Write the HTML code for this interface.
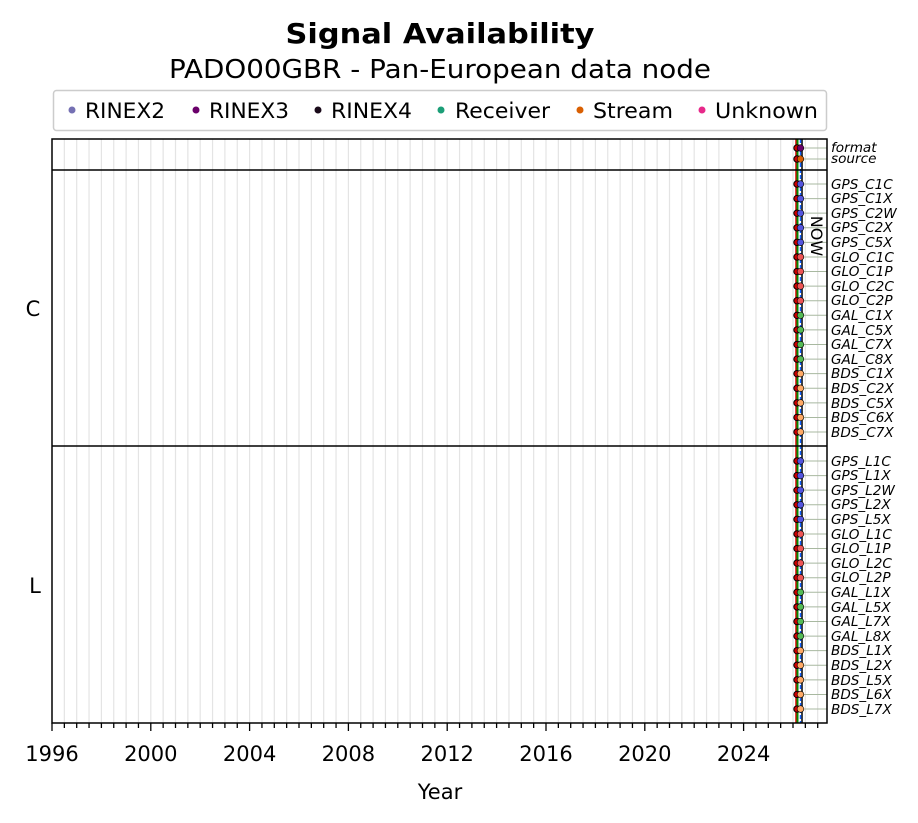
<!DOCTYPE html>
<html><head><meta charset="utf-8"><style>
body{margin:0;background:#fff}
svg{display:block;font-family:"DejaVu Sans","Liberation Sans",sans-serif}
.lab{font-size:13.6px;font-style:italic}
</style></head><body>
<svg id="s" width="918" height="823" viewBox="0 0 918 823" xmlns="http://www.w3.org/2000/svg">
<rect width="918" height="823" fill="#fff"/>
<text x="440" y="43" text-anchor="middle" font-size="28" font-weight="bold" textLength="309" lengthAdjust="spacingAndGlyphs">Signal Availability</text>
<text x="440" y="78" text-anchor="middle" font-size="26" textLength="542" lengthAdjust="spacingAndGlyphs">PADO00GBR - Pan-European data node</text>
<rect x="53.5" y="90.5" width="773" height="40" rx="3" fill="#fff" stroke="#ccc" stroke-width="1.5"/>
<g font-size="21">
<circle cx="72" cy="110" r="3.5" fill="#7570b3"/><text x="85" y="118" textLength="80" lengthAdjust="spacingAndGlyphs">RINEX2</text>
<circle cx="196" cy="110" r="3.5" fill="#6a006a"/><text x="209" y="118" textLength="80" lengthAdjust="spacingAndGlyphs">RINEX3</text>
<circle cx="318" cy="110" r="3.5" fill="#1a0a1a"/><text x="331" y="118" textLength="81" lengthAdjust="spacingAndGlyphs">RINEX4</text>
<circle cx="441" cy="110" r="3.5" fill="#1b9e77"/><text x="455" y="118" textLength="95" lengthAdjust="spacingAndGlyphs">Receiver</text>
<circle cx="580" cy="110" r="3.5" fill="#d95f02"/><text x="593" y="118" textLength="80" lengthAdjust="spacingAndGlyphs">Stream</text>
<circle cx="702" cy="110" r="3.5" fill="#e7298a"/><text x="715" y="118" textLength="103" lengthAdjust="spacingAndGlyphs">Unknown</text>
</g>
<g id="grid"></g>
<g id="marks"></g>
<rect x="52" y="139" width="775" height="584" fill="none" stroke="#000" stroke-width="1.5"/>
<line x1="52" y1="170" x2="827" y2="170" stroke="#000" stroke-width="1.5"/>
<line x1="52" y1="446" x2="827" y2="446" stroke="#000" stroke-width="1.5"/>
<text x="33" y="316" text-anchor="middle" font-size="21">C</text>
<text x="35" y="593" text-anchor="middle" font-size="21">L</text>
<text x="811" y="236" font-size="16" transform="rotate(90 811 236)" text-anchor="middle">NOW</text>
<g font-size="21" text-anchor="middle">
<text x="52" y="761">1996</text><text x="150.8" y="761">2000</text><text x="249.6" y="761">2004</text><text x="348.4" y="761">2008</text><text x="447.2" y="761">2012</text><text x="546" y="761">2016</text><text x="644.8" y="761">2020</text><text x="743.6" y="761">2024</text>
</g>
<text x="440" y="799" text-anchor="middle" font-size="21">Year</text>
<g class="lab">
<text x="831" y="152">format</text><text x="831" y="163">source</text>
<text x="831" y="189">GPS_C1C</text><text x="831" y="203">GPS_C1X</text><text x="831" y="218">GPS_C2W</text><text x="831" y="232">GPS_C2X</text><text x="831" y="247">GPS_C5X</text><text x="831" y="262">GLO_C1C</text><text x="831" y="276">GLO_C1P</text><text x="831" y="291">GLO_C2C</text><text x="831" y="305">GLO_C2P</text><text x="831" y="320">GAL_C1X</text><text x="831" y="335">GAL_C5X</text><text x="831" y="349">GAL_C7X</text><text x="831" y="364">GAL_C8X</text><text x="831" y="378">BDS_C1X</text><text x="831" y="393">BDS_C2X</text><text x="831" y="408">BDS_C5X</text><text x="831" y="422">BDS_C6X</text><text x="831" y="437">BDS_C7X</text>
<text x="831" y="466">GPS_L1C</text><text x="831" y="480">GPS_L1X</text><text x="831" y="495">GPS_L2W</text><text x="831" y="509">GPS_L2X</text><text x="831" y="524">GPS_L5X</text><text x="831" y="539">GLO_L1C</text><text x="831" y="553">GLO_L1P</text><text x="831" y="568">GLO_L2C</text><text x="831" y="582">GLO_L2P</text><text x="831" y="597">GAL_L1X</text><text x="831" y="612">GAL_L5X</text><text x="831" y="626">GAL_L7X</text><text x="831" y="641">GAL_L8X</text><text x="831" y="655">BDS_L1X</text><text x="831" y="670">BDS_L2X</text><text x="831" y="685">BDS_L5X</text><text x="831" y="699">BDS_L6X</text><text x="831" y="714">BDS_L7X</text>
</g>
</svg>
<script>
var NS="http://www.w3.org/2000/svg",g=document.getElementById("grid"),m=document.getElementById("marks");
function el(p,t,a){var e=document.createElementNS(NS,t);for(var k in a)e.setAttribute(k,a[k]);p.appendChild(e);return e;}
var px=24.7;
for(var i=1;i<63;i++){var x=52+i*px/2;el(g,"line",{x1:x,y1:139,x2:x,y2:723,stroke:"#e4e4e4","stroke-width":1.2});
el(g,"line",{x1:x,y1:723,x2:x,y2:(i%8==0?731:728),stroke:"#000","stroke-width":1.3});}
el(g,"line",{x1:52,y1:723,x2:52,y2:731,stroke:"#000","stroke-width":1.3});
var rows=[[148,"#6a006a"],[159,"#d95f02"]];
var cols=["#5555dd","#5555dd","#5555dd","#5555dd","#5555dd","#ee5555","#ee5555","#ee5555","#ee5555","#55bb55","#55bb55","#55bb55","#55bb55","#ffaa66","#ffaa66","#ffaa66","#ffaa66","#ffaa66"];
for(var i=0;i<18;i++){rows.push([184+i*14.59,cols[i]]);}
for(var i=0;i<18;i++){rows.push([461+i*14.59,cols[i]]);}
rows.forEach(function(r){el(g,"line",{x1:801,y1:r[0],x2:827,y2:r[0],stroke:"#a8b8a0","stroke-width":1});});
el(g,"line",{x1:796,y1:139,x2:796,y2:723,stroke:"#d00","stroke-width":1.5});
el(g,"line",{x1:797.5,y1:139,x2:797.5,y2:723,stroke:"#080","stroke-width":2});
el(g,"line",{x1:802,y1:139,x2:802,y2:723,stroke:"#000","stroke-width":1.5});
el(g,"line",{x1:800.5,y1:139,x2:800.5,y2:723,stroke:"#1060ff","stroke-width":1.5,"stroke-dasharray":"4,2"});
rows.forEach(function(r){
el(m,"circle",{cx:797,cy:r[0],r:3.2,fill:"#c00",stroke:"#000","stroke-width":1});
el(m,"circle",{cx:800.5,cy:r[0],r:3.3,fill:r[1],stroke:"#000","stroke-width":0.6});});
</script>
</body></html>
